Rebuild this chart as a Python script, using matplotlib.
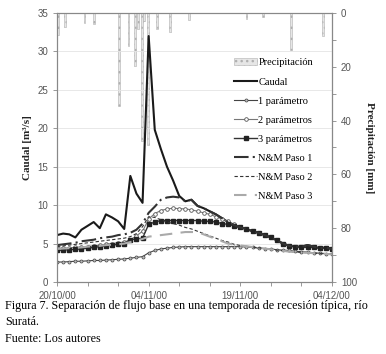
import numpy as np
import matplotlib
matplotlib.use('Agg')
import matplotlib.pyplot as plt

# days since 20/10/00
days = np.arange(46)

caudal = [6.1, 6.3, 6.2, 5.8, 6.8, 7.3, 7.8, 7.0, 8.8, 8.4,
          7.9, 6.9, 13.8, 11.5, 10.3, 32.0, 19.8, 17.3, 15.0, 13.2,
          11.2, 10.5, 10.7, 9.9, 9.6, 9.2, 8.8, 8.3, 7.8, 7.4,
          7.1, 6.9, 6.6, 6.4, 6.1, 5.8, 5.4, 5.0, 4.7, 4.6,
          4.6, 4.8, 4.6, 4.4, 4.5, 4.3]

p1 = [2.6, 2.6, 2.65, 2.7, 2.7, 2.75, 2.8, 2.8, 2.85, 2.9,
      2.95, 3.0, 3.1, 3.2, 3.3, 3.8, 4.1, 4.3, 4.4, 4.5,
      4.55, 4.6, 4.6, 4.6, 4.6, 4.6, 4.6, 4.6, 4.6, 4.6,
      4.6, 4.55, 4.5, 4.4, 4.35, 4.3, 4.2, 4.15, 4.1, 4.0,
      3.95, 3.9, 3.8, 3.75, 3.7, 3.65]

p2 = [4.4, 4.4, 4.45, 4.5, 4.55, 4.6, 4.7, 4.8, 4.9, 5.0,
      5.1, 5.2, 5.5, 6.0, 6.6, 8.2, 8.9, 9.3, 9.5, 9.6,
      9.55, 9.5, 9.4, 9.2, 9.0, 8.8, 8.5, 8.2, 7.9, 7.5,
      7.1, 6.9, 6.6, 6.4, 6.1, 5.8, 5.4, 5.0, 4.7, 4.6,
      4.5, 4.5, 4.5, 4.4, 4.4, 4.3]

p3 = [4.1, 4.15, 4.2, 4.25, 4.3, 4.4, 4.5, 4.6, 4.7, 4.8,
      4.9, 5.0, 5.5, 5.6, 5.7, 7.5, 7.8, 8.0, 8.0, 8.0,
      8.0, 8.0, 8.0, 8.0, 7.9, 7.9, 7.8, 7.6, 7.5, 7.3,
      7.1, 6.9, 6.6, 6.4, 6.1, 5.8, 5.4, 5.0, 4.7, 4.6,
      4.5, 4.5, 4.5, 4.4, 4.4, 4.3]

nm1 = [4.8, 4.9, 5.0, 5.1, 5.3, 5.4, 5.5, 5.7, 5.8, 5.9,
       6.1, 6.2, 6.4, 6.8, 7.6, 9.0, 9.8, 10.7, 11.0, 11.1,
       11.0, 10.5, 10.7, 9.9, 9.6, 9.2, 8.8, 8.3, 7.8, 7.4,
       7.1, 6.9, 6.6, 6.4, 6.1, 5.8, 5.4, 5.0, 4.7, 4.6,
       4.6, 4.8, 4.6, 4.4, 4.5, 4.3]

nm2 = [4.6, 4.7, 4.8, 4.9, 5.0, 5.1, 5.2, 5.3, 5.4, 5.5,
       5.6, 5.7, 5.9, 6.3, 7.2, 8.5, 8.4, 8.1, 7.8, 7.6,
       7.4, 7.1, 6.9, 6.6, 6.3, 6.0, 5.7, 5.4, 5.2, 4.9,
       4.75, 4.65, 4.55, 4.45, 4.35, 4.25, 4.15, 4.05, 3.95, 3.9,
       3.85, 3.8, 3.75, 3.7, 3.65, 3.6]

nm3 = [4.3, 4.35, 4.4, 4.45, 4.5, 4.6, 4.65, 4.7, 4.8, 4.85,
       4.9, 5.0, 5.2, 5.4, 5.6, 5.9, 6.0, 6.1, 6.2, 6.3,
       6.4, 6.5, 6.5, 6.5, 6.2, 5.9, 5.6, 5.3, 5.0, 4.85,
       4.75, 4.65, 4.55, 4.45, 4.35, 4.25, 4.15, 4.05, 3.95, 3.9,
       3.85, 3.8, 3.75, 3.7, 3.65, 3.6]

rain_day = [0.2, 1.3, 4.5, 6.05, 10.2, 11.7, 12.8, 13.3, 13.9, 14.3,
            14.9, 16.4, 18.5, 21.6, 31.0, 33.7, 38.3, 43.6]
rain_mm = [8.2, 5.1, 3.6, 4.1, 34.6, 12.2, 19.6, 6.1, 47.5, 3.0,
           49.0, 6.1, 6.9, 2.6, 2.4, 1.4, 13.8, 8.4]

xtick_pos = [0, 15, 30, 45]
xtick_lab = ['20/10/00', '04/11/00', '19/11/00', '04/12/00']

fig = plt.figure(figsize=(3.86, 3.54), dpi=100)
ax = fig.add_axes([0.1477, 0.2034, 0.7123, 0.7599])
ax2 = ax.twinx()

# precipitation bars hanging from the top (right axis inverted)
bars = ax2.bar(rain_day, rain_mm, width=0.3, color='#e6e6e6', edgecolor='#b0b0b0',
               linewidth=0.4, hatch='...', label='Precipitación')
ax2.set_ylim(100, 0)
ax2.set_yticks(range(0, 101, 20))
ax2.set_yticks(range(10, 100, 20), minor=True)

ax.set_zorder(ax2.get_zorder() + 1)
ax.patch.set_visible(False)

l0, = ax.plot(days, caudal, color='#1a1a1a', lw=1.5, label='Caudal')
l1, = ax.plot(days, p1, color='#444444', lw=0.8, marker='o', ms=2.2,
              mfc='#bbbbbb', mec='#444444', mew=0.5, label='1 parámetro')
l2, = ax.plot(days, p2, color='#777777', lw=0.8, marker='o', ms=2.6,
              mfc='white', mec='#555555', mew=0.6, label='2 parámetros')
l3, = ax.plot(days, p3, color='#333333', lw=1.0, marker='s', ms=2.5,
              mfc='#222222', mec='#222222', label='3 parámetros')
l4, = ax.plot(days, nm1, color='#333333', lw=1.5, dashes=(7, 2, 1, 2), label='N&M Paso 1')
l5, = ax.plot(days, nm2, color='#333333', lw=0.8, dashes=(3, 2), label='N&M Paso 2')
l6, = ax.plot(days, nm3, color='#aaaaaa', lw=1.5, dashes=(6, 4), label='N&M Paso 3')

ax.set_xlim(0, 45)
ax.set_ylim(0, 35)
ax.set_yticks(range(0, 36, 5))
ax.set_xticks(xtick_pos)
ax.set_xticklabels(xtick_lab)
ax.set_xticks(range(0, 46, 5), minor=True)
ax.grid(axis='y', color='#e4e4e4', lw=0.6)
ax.set_axisbelow(True)

for a in (ax, ax2):
    for s in a.spines.values():
        s.set_color('#888888')
        s.set_linewidth(0.8)
    a.tick_params(which='both', colors='#888888', labelcolor='#555555', labelsize=7,
                  length=3, width=0.6)
    for t in a.get_xticklabels() + a.get_yticklabels():
        t.set_family('Liberation Sans')
ax2.spines['right'].set_color('#555555')
ax.tick_params(axis='x', which='minor', length=3)

ax.set_ylabel('Caudal [m³/s]', family='Liberation Serif', weight='bold', fontsize=8,
              color='#222222', labelpad=4)
ax2.set_ylabel('Precipitación [mm]', family='Liberation Serif', weight='bold', fontsize=8,
               color='#222222', rotation=270, labelpad=12)

handles = [bars, l0, l1, l2, l3, l4, l5, l6]
leg = ax.legend(handles, [h.get_label() for h in handles], loc='upper left',
                bbox_to_anchor=(0.645, 0.832), frameon=False, borderpad=0,
                borderaxespad=0, handlelength=2.2, handletextpad=0.1,
                labelspacing=0.94, prop={'family': 'Liberation Serif', 'size': 7.5})

cap = dict(family='Liberation Serif', fontsize=8.7, va='center')
fig.text(0.013, 0.135, 'Figura 7. Separación de flujo base en una temporada de recesión típica, río', **cap)
fig.text(0.013, 0.09, 'Suratá.', **cap)
fig.text(0.013, 0.043, 'Fuente: Los autores', **cap)

fig.savefig('out.png', dpi=100)
